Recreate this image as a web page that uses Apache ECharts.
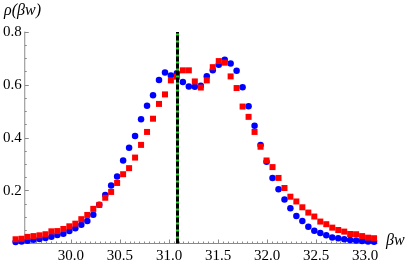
<!DOCTYPE html>
<html><head><meta charset="utf-8">
<script src="https://cdn.jsdelivr.net/npm/echarts@6/dist/echarts.min.js"></script>
<style>html,body{margin:0;padding:0;background:#fff}#c{width:407px;height:265px}</style>
</head><body><div id="c"></div>
<script>
const betaW = [29.436,29.497,29.558,29.619,29.680,29.741,29.801,29.862,29.923,29.984,
  30.045,30.106,30.167,30.228,30.289,30.350,30.410,30.471,30.532,30.593,
  30.654,30.715,30.776,30.837,30.898,30.959,31.019,31.080,31.141,31.202,
  31.263,31.324,31.385,31.446,31.507,31.568,31.628,31.689,31.750,31.811,
  31.872,31.933,31.994,32.055,32.116,32.177,32.237,32.298,32.359,32.420,
  32.481,32.542,32.603,32.664,32.725,32.786,32.846,32.907,32.968,33.029,33.090];
const blueRho = [0.006,0.008,0.010,0.014,0.017,0.021,0.026,0.032,0.037,0.047,
  0.058,0.071,0.085,0.109,0.147,0.183,0.219,0.253,0.314,0.362,
  0.407,0.470,0.521,0.561,0.618,0.647,0.635,0.644,0.611,0.594,
  0.593,0.597,0.633,0.655,0.676,0.695,0.681,0.653,0.591,0.519,
  0.445,0.373,0.309,0.248,0.205,0.166,0.133,0.104,0.085,0.063,
  0.048,0.040,0.031,0.023,0.020,0.016,0.013,0.011,0.009,0.008,0.007];
const redRho = [0.016,0.018,0.025,0.028,0.031,0.035,0.046,0.047,0.055,0.065,
  0.075,0.092,0.108,0.131,0.146,0.173,0.195,0.229,0.262,0.285,
  0.325,0.373,0.422,0.472,0.528,0.564,0.617,0.631,0.655,0.655,
  0.613,0.590,0.617,0.667,0.690,0.684,0.632,0.588,0.518,0.479,
  0.422,0.366,0.314,0.289,0.248,0.210,0.177,0.159,0.137,0.117,
  0.102,0.083,0.073,0.060,0.051,0.045,0.036,0.035,0.028,0.022,0.020];
const xTickLabels = [30.0,30.5,31.0,31.5,32.0,32.5,33.0];
const xMinorTicks = [29.5,29.55,29.6,29.65,29.7,29.75,29.8,29.85,29.9,29.95,
  30.05,30.1,30.15,30.2,30.25,30.3,30.35,30.4,30.45,
  30.55,30.6,30.65,30.7,30.75,30.8,30.85,30.9,30.95,
  31.05,31.1,31.15,31.2,31.25,31.3,31.35,31.4,31.45,
  31.55,31.6,31.65,31.7,31.75,31.8,31.85,31.9,31.95,
  32.05,32.1,32.15,32.2,32.25,32.3,32.35,32.4,32.45,
  32.55,32.6,32.65,32.7,32.75,32.8,32.85,32.9,32.95,33.05,33.1];
const yTickLabels = [0.2,0.4,0.6,0.8];
const markerBeta = 31.08;
const yLabel = 'ρ(βw)';
const xLabel = 'βw';

const axisGray = '#8a8a8a';
const font = 'Liberation Serif';
const chart = echarts.init(document.getElementById('c'));
const gridPos = {top:32, bottom:21.5, right:30};
chart.setOption({
  animation:false,
  grid:[Object.assign({left:15}, gridPos), Object.assign({left:24}, gridPos)],
  xAxis:[
    {type:'value', gridIndex:0, min:29.43, max:33.12,
     axisLine:{show:true, lineStyle:{color:axisGray, width:1}},
     splitLine:{show:false},
     axisTick:{show:true, inside:true, length:4, lineStyle:{color:axisGray}, customValues:xTickLabels},
     axisLabel:{show:true, customValues:xTickLabels, color:'#000', fontFamily:font, fontSize:15, margin:5,
       formatter:v=>v.toFixed(1)}},
    {type:'value', gridIndex:0, min:29.43, max:33.12, position:'bottom',
     axisLine:{show:false}, splitLine:{show:false}, axisLabel:{show:false},
     axisTick:{show:true, inside:true, length:2, lineStyle:{color:axisGray}, customValues:xMinorTicks}},
    {type:'value', gridIndex:1, min:29.5, max:33.12, show:false}
  ],
  yAxis:[
    {type:'value', gridIndex:0, min:0, max:0.8, show:false},
    {type:'value', gridIndex:1, min:0, max:0.8, interval:0.2,
     axisLine:{show:true, lineStyle:{color:axisGray, width:1}},
     splitLine:{show:false},
     axisTick:{show:true, inside:true, length:4, lineStyle:{color:axisGray}},
     minorTick:{show:true, splitNumber:4, length:2, lineStyle:{color:axisGray}},
     axisLabel:{show:true, color:'#000', fontFamily:font, fontSize:15, margin:3,
       customValues:yTickLabels, formatter:v=>v.toFixed(1)}}
  ],
  series:[
    {type:'scatter', xAxisIndex:0, yAxisIndex:0, symbol:'circle', symbolSize:6.5,
     itemStyle:{color:'#0000ff', opacity:1}, data:betaW.map((x,i)=>[x, blueRho[i]]), clip:false, z:3,
     markLine:{silent:true, symbol:'none', label:{show:false}, animation:false, z:5,
       lineStyle:{color:'#2ecc2e', width:3, type:'solid', opacity:1},
       data:[[{coord:[markerBeta,0]},{coord:[markerBeta,0.8]}]]}},
    {type:'scatter', xAxisIndex:0, yAxisIndex:0, symbol:'rect', symbolSize:6,
     itemStyle:{color:'#ff0000', opacity:1}, data:betaW.map((x,i)=>[x, redRho[i]]), clip:false, z:4,
     markLine:{silent:true, symbol:'none', label:{show:false}, animation:false, z:6,
       lineStyle:{color:'#000', width:3, type:[5,2], opacity:1},
       data:[[{coord:[markerBeta,0]},{coord:[markerBeta,0.8]}]]}}
  ],
  graphic:[
    {type:'text', left:4, top:3, style:{text:yLabel, font:'italic 16px "Liberation Serif"', fill:'#000'}},
    {type:'text', left:386, top:233, style:{text:xLabel, font:'italic 16px "Liberation Serif"', fill:'#000'}}
  ]
});
</script></body></html>
